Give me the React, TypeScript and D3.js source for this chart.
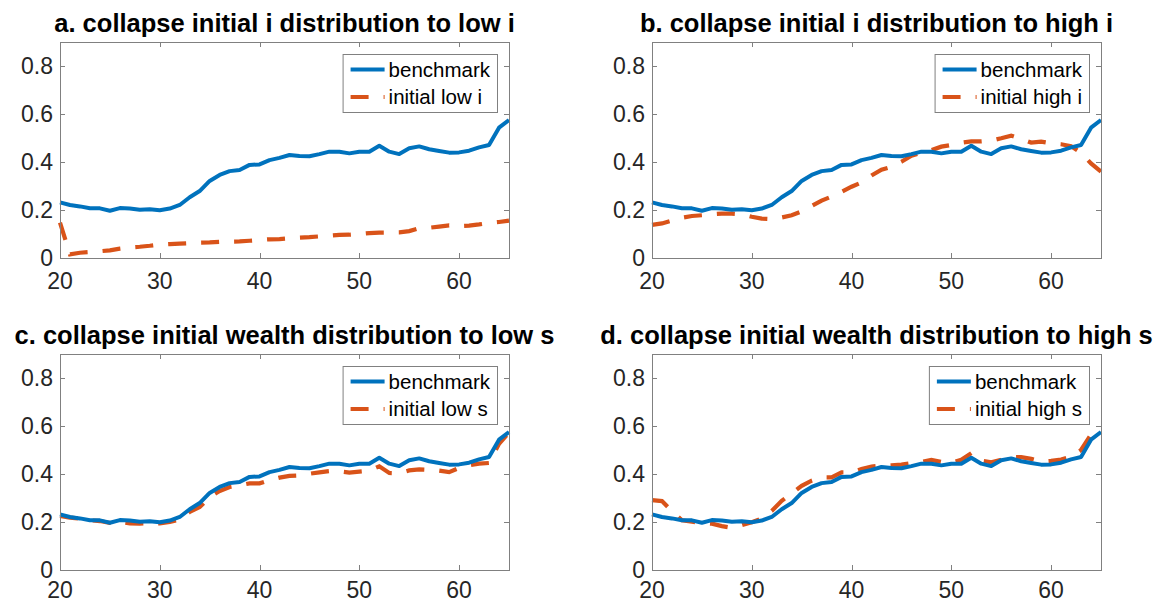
import React from 'react';
import * as d3 from 'd3';

const ages = [20, 21, 22, 23, 24, 25, 26, 27, 28, 29, 30, 31, 32, 33, 34, 35, 36, 37, 38, 39, 40, 41, 42, 43, 44, 45, 46, 47, 48, 49, 50, 51, 52, 53, 54, 55, 56, 57, 58, 59, 60, 61, 62, 63, 64, 65];

const benchmark = [0.232, 0.221, 0.215, 0.207, 0.207, 0.197, 0.208, 0.206, 0.201, 0.203,
  0.199, 0.206, 0.221, 0.253, 0.279, 0.321, 0.346, 0.362, 0.367, 0.388,
  0.390, 0.408, 0.417, 0.429, 0.425, 0.424, 0.433, 0.443, 0.443, 0.436,
  0.443, 0.443, 0.468, 0.443, 0.433, 0.457, 0.465, 0.453, 0.446, 0.439,
  0.440, 0.447, 0.461, 0.471, 0.543, 0.575];

const initialLowI = [0.147, 0.015, 0.022, 0.025, 0.028, 0.032, 0.039, 0.044, 0.047, 0.051,
  0.056, 0.058, 0.060, 0.062, 0.064, 0.065, 0.067, 0.068, 0.069, 0.072,
  0.075, 0.078, 0.079, 0.082, 0.085, 0.087, 0.090, 0.093, 0.096, 0.097,
  0.100, 0.104, 0.106, 0.106, 0.107, 0.112, 0.124, 0.126, 0.131, 0.136,
  0.133, 0.135, 0.140, 0.146, 0.150, 0.156];

const initialHighI = [0.138, 0.144, 0.156, 0.168, 0.175, 0.178, 0.182, 0.185, 0.185, 0.182,
  0.172, 0.164, 0.162, 0.169, 0.178, 0.194, 0.217, 0.239, 0.256, 0.276,
  0.297, 0.315, 0.344, 0.368, 0.380, 0.401, 0.426, 0.439, 0.450, 0.464,
  0.471, 0.480, 0.486, 0.486, 0.489, 0.499, 0.510, 0.496, 0.481, 0.485,
  0.478, 0.474, 0.466, 0.439, 0.394, 0.360];

const initialLowS = [0.225, 0.218, 0.214, 0.207, 0.204, 0.196, 0.200, 0.194, 0.193, 0.196,
  0.194, 0.200, 0.210, 0.242, 0.262, 0.304, 0.329, 0.346, 0.353, 0.361,
  0.361, 0.374, 0.385, 0.392, 0.394, 0.401, 0.407, 0.412, 0.411, 0.406,
  0.410, 0.414, 0.432, 0.404, 0.403, 0.415, 0.419, 0.417, 0.414, 0.408,
  0.425, 0.436, 0.443, 0.446, 0.526, 0.572];

const initialHighS = [0.291, 0.287, 0.245, 0.207, 0.201, 0.196, 0.193, 0.183, 0.176, 0.187,
  0.199, 0.215, 0.246, 0.288, 0.319, 0.351, 0.372, 0.386, 0.386, 0.407,
  0.407, 0.421, 0.431, 0.435, 0.436, 0.439, 0.445, 0.450, 0.459, 0.450,
  0.446, 0.459, 0.487, 0.456, 0.449, 0.459, 0.470, 0.470, 0.463, 0.452,
  0.455, 0.460, 0.472, 0.500, 0.565, 0.585];

const xTicks = [20, 30, 40, 50, 60];
const yTicks = [0, 0.2, 0.4, 0.6, 0.8];
const yTickLabels = ['0', '0.2', '0.4', '0.6', '0.8'];

const titles = [
  'a. collapse initial i distribution to low i',
  'b. collapse initial i distribution to high i',
  'c. collapse initial wealth distribution to low s',
  'd. collapse initial wealth distribution to high s',
];
const benchLabel = 'benchmark';
const altLabels = ['initial low i', 'initial high i', 'initial low s', 'initial high s'];
const altSeries = [initialLowI, initialHighI, initialLowS, initialHighS];

const BLUE = '#0072BD';
const ORANGE = '#D95319';
const AXIS = '#808080';
const TEXT = '#262626';
const FONT = '"Liberation Sans", Arial, Helvetica, sans-serif';
const TICK_FS = 23;
const TITLE_FS = 25.5;
const LEG_FS = 20.5;

function measure(text: string, font: string): number {
  const c = document.createElement('canvas');
  const ctx = c.getContext('2d');
  if (!ctx) return text.length * 10;
  ctx.font = font;
  return ctx.measureText(text).width;
}

const PW = 449;
const PH = 216;
const layout = [
  { left: 60, top: 42, xlab: 31 },
  { left: 652, top: 42, xlab: 31 },
  { left: 60, top: 354, xlab: 28 },
  { left: 652, top: 354, xlab: 28 },
];

function Panel({ idx }: { idx: number }) {
  const { left, top, xlab } = layout[idx];
  const x = d3.scaleLinear().domain([20, 65]).range([left, left + PW]);
  const y = d3.scaleLinear().domain([0, 0.9]).range([top + PH, top]);
  const line = d3
    .line<number>()
    .x((_, i) => x(ages[i]))
    .y((d) => y(d));
  const alt = altSeries[idx];
  const legFont = `${LEG_FS}px ${FONT}`;
  const tw = Math.max(measure(benchLabel, legFont), measure(altLabels[idx], legFont));
  const legW = 46 + tw + 7;
  const legH = 58;
  const legRight = left + PW - 12;
  const legLeft = legRight - legW;
  const legTop = top + 12;
  const tl = 5;
  return (
    <g>
      <text
        x={left + PW / 2}
        y={top - 10}
        textAnchor="middle"
        fontFamily={FONT}
        fontWeight="bold"
        fontSize={TITLE_FS}
        fill="#000"
      >
        {titles[idx]}
      </text>
      <path d={line(alt) || ''} fill="none" stroke={ORANGE} strokeWidth={4.2} strokeDasharray="18,15" />
      <path d={line(benchmark) || ''} fill="none" stroke={BLUE} strokeWidth={4} strokeLinejoin="round" />
      <rect x={left + 0.5} y={top + 0.5} width={PW} height={PH} fill="none" stroke={AXIS} strokeWidth={1} />
      {xTicks.map((t) => (
        <g key={'x' + t}>
          <line x1={Math.round(x(t)) + 0.5} x2={Math.round(x(t)) + 0.5} y1={top + PH} y2={top + PH - tl} stroke={AXIS} />
          <line x1={Math.round(x(t)) + 0.5} x2={Math.round(x(t)) + 0.5} y1={top} y2={top + tl} stroke={AXIS} />
          <text x={x(t)} y={top + PH + xlab} textAnchor="middle" fontFamily={FONT} fontSize={TICK_FS} fill={TEXT}>
            {t}
          </text>
        </g>
      ))}
      {yTicks.map((t, i) => (
        <g key={'y' + t}>
          <line x1={left} x2={left + tl} y1={Math.round(y(t)) + 0.5} y2={Math.round(y(t)) + 0.5} stroke={AXIS} />
          <line x1={left + PW} x2={left + PW - tl} y1={Math.round(y(t)) + 0.5} y2={Math.round(y(t)) + 0.5} stroke={AXIS} />
          <text x={left - 7} y={y(t)} dy="0.36em" textAnchor="end" fontFamily={FONT} fontSize={TICK_FS} fill={TEXT}>
            {yTickLabels[i]}
          </text>
        </g>
      ))}
      <rect x={legLeft + 0.5} y={legTop + 0.5} width={legW} height={legH} fill="#fff" stroke={AXIS} strokeWidth={1} />
      <line x1={legLeft + 8} x2={legLeft + 42} y1={legTop + 15.5} y2={legTop + 15.5} stroke={BLUE} strokeWidth={4} />
      <text x={legLeft + 46} y={legTop + 15.5} dy="0.36em" fontFamily={FONT} fontSize={LEG_FS} fill="#000">
        {benchLabel}
      </text>
      <line x1={legLeft + 8} x2={legLeft + 42} y1={legTop + 43} y2={legTop + 43} stroke={ORANGE} strokeWidth={4.2} strokeDasharray="18,15" />
      <text x={legLeft + 46} y={legTop + 43} dy="0.36em" fontFamily={FONT} fontSize={LEG_FS} fill="#000">
        {altLabels[idx]}
      </text>
    </g>
  );
}

export default function App() {
  return (
    <svg
      width={1159}
      height={603}
      style={{ position: 'absolute', left: 0, top: 0, background: '#fff' }}
    >
      <rect x={0} y={0} width={1159} height={603} fill="#fff" />
      {[0, 1, 2, 3].map((i) => (
        <Panel key={i} idx={i} />
      ))}
    </svg>
  );
}
